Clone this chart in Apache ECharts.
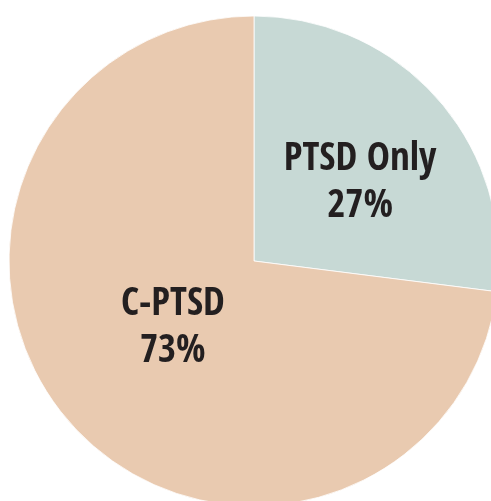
<!DOCTYPE html>
<html>
<head>
<meta charset="utf-8">
<script src="https://cdn.jsdelivr.net/npm/echarts@6/dist/echarts.min.js"></script>
<style>
  html, body { margin: 0; padding: 0; background: #fff; }
  #main { width: 491px; height: 501px; }
</style>
</head>
<body>
<div id="main"></div>
<script>
var categories = ['PTSD Only', 'C-PTSD'];
var values = [27, 73];
var colors = ['#c7d9d5', '#e9cab0'];
// label nudges from the default inside position
var labelOffsets = [[12, 5], [13, -16]];

window.onload = function () {
    var myChart = echarts.init(document.getElementById('main'));
    var data = categories.map(function (name, i) {
        return {
            name: name,
            value: values[i],
            itemStyle: { color: colors[i] },
            label: { offset: labelOffsets[i] }
        };
    });
    var option = {
        animation: false,
        series: [{
            type: 'pie',
            center: [254, 261],
            radius: 245,
            startAngle: 90,
            clockwise: true,
            data: data,
            itemStyle: { borderColor: '#ffffff', borderWidth: 0.8 },
            label: {
                show: true,
                position: 'inside',
                formatter: function (p) {
                    return p.name + '\n' + p.value + '%';
                },
                color: '#231f20',
                fontFamily: '"Open Sans Condensed", "Roboto Condensed", sans-serif',
                fontWeight: 'bold',
                fontSize: 39,
                lineHeight: 47
            },
            labelLine: { show: false },
            emphasis: { disabled: true }
        }]
    };
    myChart.setOption(option);
    window.addEventListener('resize', function () {
        myChart.resize();
    });
};
</script>
</body>
</html>
